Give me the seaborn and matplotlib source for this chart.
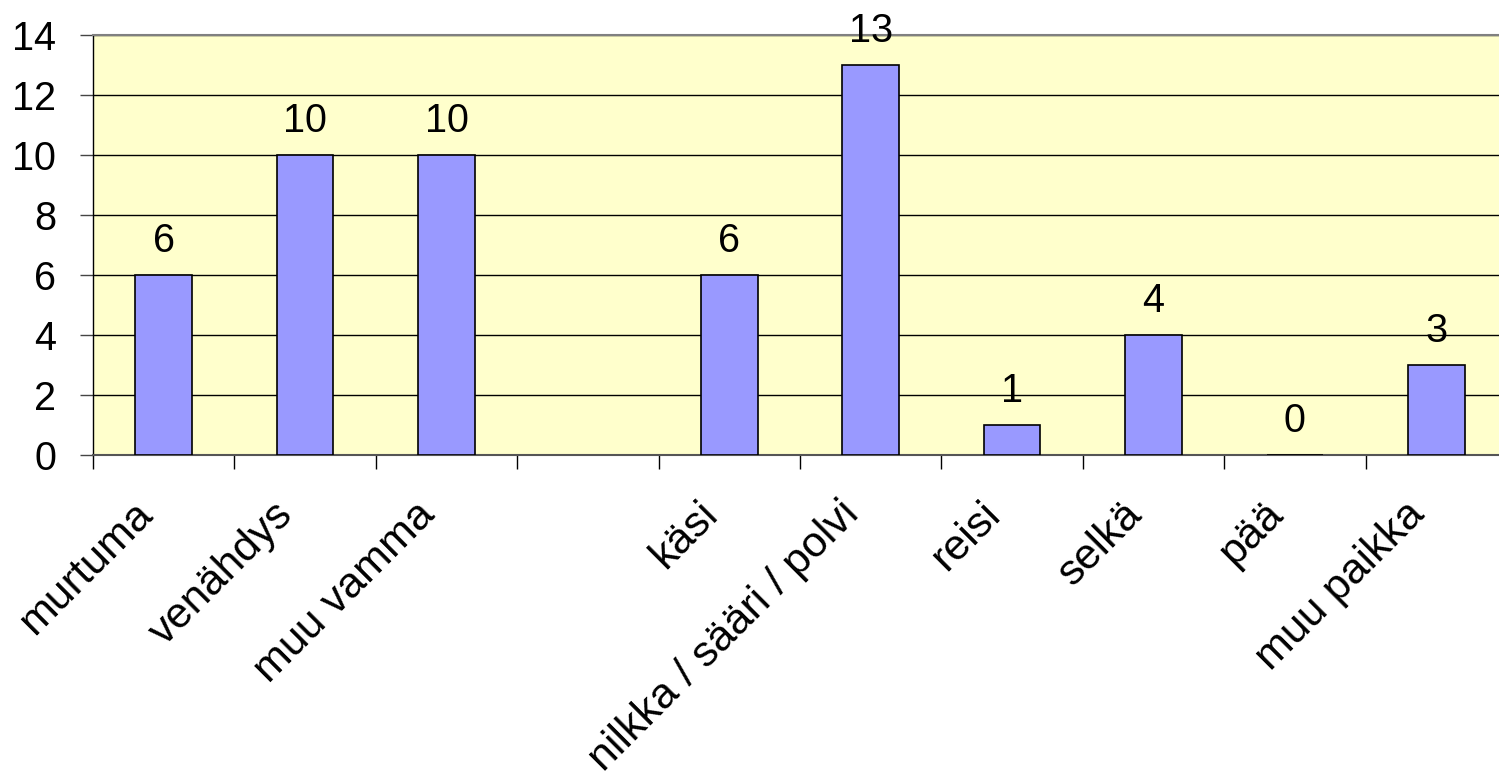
import matplotlib
matplotlib.use("Agg")
import matplotlib.pyplot as plt
import matplotlib.transforms as mtransforms
import seaborn as sns
import numpy as np
import pandas as pd
from matplotlib.ticker import FixedLocator

categories = ["murtuma", "venähdys", "muu vamma", " ", "käsi",
              "nilkka / sääri / polvi", "reisi", "selkä", "pää", "muu paikka"]
values = [6, 10, 10, np.nan, 6, 13, 1, 4, 0, 3]
yticks = [0, 2, 4, 6, 8, 10, 12, 14]

sns.set_theme(style="white")
plt.rcParams['font.family'] = ['Liberation Sans', 'DejaVu Sans']
plt.rcParams['text.color'] = 'black'
plt.rcParams['xtick.color'] = 'black'
plt.rcParams['ytick.color'] = 'black'

df = pd.DataFrame({"cat": categories, "val": values})

W, H = 1499, 780
fig = plt.figure(figsize=(W / 100, H / 100), dpi=100)
ax = fig.add_axes([93 / W, 1 - 455 / H, 1414 / W, 420 / H])
ax.set_facecolor("#FFFFCC")

sns.barplot(data=df, x="cat", y="val", order=categories, color="#9999FF",
            saturation=1, width=0.4, edgecolor="black", linewidth=1.2, ax=ax, zorder=3)

ax.set_ylim(0, 14)
ax.set_xlim(-0.5, 9.5)
ax.set_yticks(yticks)
ax.set_yticklabels([str(t) for t in yticks], fontsize=28.5, color="black")
ax.yaxis.grid(True, color="black", linewidth=1.0, zorder=0)
ax.set_axisbelow(True)

ax.set_xticks(range(len(categories)))
ax.xaxis.set_minor_locator(FixedLocator(np.arange(-0.5, 9.5, 1.0)))
ax.tick_params(axis="x", which="major", length=0, pad=44)
ax.tick_params(axis="x", which="minor", length=10, width=1.0, color="black", direction="out", bottom=True)
ax.tick_params(axis="y", length=9.5, width=1.0, color="#444444", direction="out", left=True, pad=17)
ax.set_xticklabels(categories, rotation=45, ha="right", va="baseline",
                   rotation_mode="anchor", fontsize=31, color="black")
offset = mtransforms.ScaledTranslation(-10 / 100, 0, fig.dpi_scale_trans)
for lab in ax.get_xticklabels():
    lab.set_transform(lab.get_transform() + offset)
ax.set_xlabel("")
ax.set_ylabel("")

ax.spines["top"].set_color("#808080")
ax.spines["top"].set_linewidth(1.5)
ax.spines["right"].set_visible(False)
ax.spines["left"].set_color("black")
ax.spines["left"].set_linewidth(1.0)
ax.spines["bottom"].set_color("#555555")
ax.spines["bottom"].set_linewidth(1.5)

for i, v in enumerate(values):
    if np.isnan(v):
        continue
    ax.annotate(str(int(v)), xy=(i, v), xytext=(0, 11), textcoords="offset points",
                ha="center", va="bottom", fontsize=28.5, color="black", zorder=5)

fig.savefig("out.png", dpi=100, facecolor="white")
